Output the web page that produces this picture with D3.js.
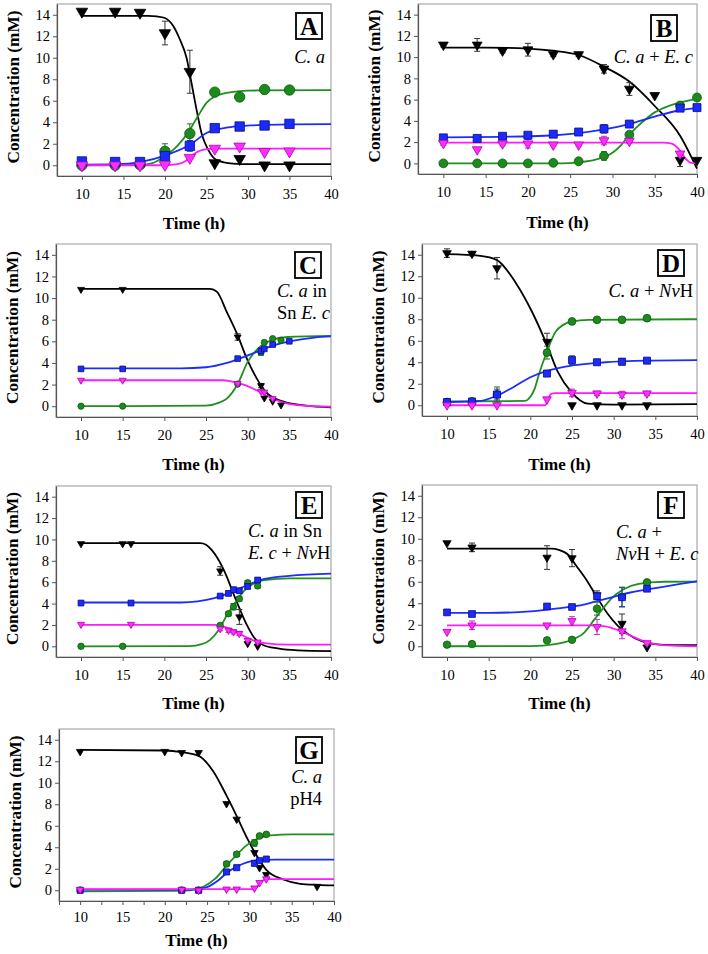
<!DOCTYPE html>
<meta charset="utf-8">
<style>
body { margin: 0; background: #fff; }
svg text { font-family: "Liberation Serif", "Tinos", "Times New Roman", serif; }
.sub { font-size: 18.5px; white-space: pre; }
</style>
<svg width="708" height="954"></svg>
<script src="https://d3js.org/d3.v7.min.js"></script>
<script>
// ---- data (mM vs h) ----
// black = substrate, green / blue / magenta = products; *Err = error bar half-length
var yTicks = [0, 2, 4, 6, 8, 10, 12, 14];
var xTicks = [10, 15, 20, 25, 30, 35, 40];

// A  C. a
var tA = [10, 14, 17, 20, 23, 26, 29, 32, 35];
var blackA = [14.3, 14.3, 14.2, 12.3, 8.7, 0.2, 0.6, 0, 0];
var blackErrA = [0, 0, 0, 1.1, 2.0, 0, 0, 0, 0];
var greenA = [0, 0, 0.05, 1.3, 2.95, 6.8, 6.35, 7.05, 7.0];
var greenErrA = [0, 0, 0, 0.7, 0.9, 0, 0, 0, 0];
var blueA = [0.35, 0.3, 0.3, 0.85, 1.8, 3.45, 3.6, 3.7, 3.85];
var blueErrA = [0, 0, 0, 0.3, 0.5, 0, 0, 0, 0];
var magA = [0, 0, 0, 0.05, 0.7, 1.55, 1.75, 1.25, 1.3];
var magErrA = [0, 0, 0, 0, 0, 0, 0, 0, 0];
var fitBlackA = [[10,13.9],[18,13.9],[19,13.85],[20,13.7],[21,12.95],[21.8,11.7],[22.6,10.0],[23.2,7.65],[23.8,5.2],[24.4,3.0],[25.2,1.45],[26.2,0.5],[28.2,0.15],[30,0.1],[40,0.1]];
var fitGreenA = [[10,0],[17,0.05],[18.5,0.2],[20,0.85],[21.5,1.8],[23,3.3],[24,4.6],[25,5.8],[26,6.4],[28,6.8],[30,6.95],[40,6.98]];
var fitBlueA = [[10,0.06],[14,0.1],[17,0.3],[20,0.9],[23,1.9],[25,3.0],[27.4,3.5],[30.3,3.7],[35,3.8],[40,3.82]];
var fitMagA = [[10,0],[20,0],[21.5,0.1],[22.5,0.4],[23,0.7],[23.6,1.1],[24.2,1.35],[25,1.5],[26,1.55],[40,1.55]];

// B  C. a + E. c
var tB = [10, 14, 17, 20, 23, 26, 29, 32, 35, 38, 40];
var blackB = [11.15, 11.15, 10.6, 10.7, 10.25, 10.25, 8.9, 7.0, 6.4, 0.3, 0.3];
var blackErrB = [0.2, 0.6, 0.2, 0.6, 0.2, 0.2, 0.4, 0.6, 0, 0.6, 0];
var greenB = [0, 0, 0, 0, 0.05, 0.2, 0.7, 2.7, null, 5.45, 6.2];
var greenErrB = [0, 0, 0, 0, 0, 0, 0.4, 0.2, 0, 0.2, 0.3];
var blueB = [2.4, 2.35, 2.55, 2.65, 2.75, 2.95, 3.25, 3.7, null, 5.2, 5.25];
var blueErrB = [0.2, 0.1, 0.1, 0.1, 0.1, 0.1, 0.4, 0.2, 0, 0.1, 0.1];
var magB = [1.9, 1.3, 1.85, 1.85, 1.75, 1.75, 2.15, 2.1, null, 0.9, null];
var magErrB = [0.2, 0, 0.2, 0.4, 0.1, 0.1, 0.4, 0.2, 0, 0.2, 0];
var fitBlackB = [[10,10.9],[15,10.9],[20,10.8],[23,10.6],[26,10.2],[29,9.1],[32,7.7],[35,5.4],[38,2.6],[40,-0.5]];
var fitGreenB = [[10,0],[24,0],[26,0.1],[28,0.35],[30,1.0],[31,1.7],[32,2.7],[33,3.5],[34,4.2],[35,4.8],[36,5.2],[38,5.75],[40,6.05]];
var fitBlueB = [[10,2.45],[17,2.5],[22,2.6],[26,2.85],[29,3.2],[32,3.7],[35,4.4],[38,5.0],[40,5.2]];
var fitMagB = [[10,1.95],[36,1.95],[37,1.85],[38,1.2],[38.7,0.4],[39.3,0.05],[40,0]];

// C  C. a in Sn E. c
var tC = [10, 15, 28.8, 31.6, 32, 33, 34, 35];
var blackC = [10.8, 10.8, 6.4, 1.9, 0.75, 0.45, 0.1, null];
var blackErrC = [0, 0, 0.3, 0.2, 0, 0, 0, 0];
var greenC = [0, 0, 2.05, 5.0, 5.9, 6.25, 6.1, null];
var greenErrC = [0, 0, 0, 0.3, 0, 0, 0, 0];
var blueC = [3.45, 3.45, 4.4, 5.1, 5.3, 5.7, null, 6.0];
var blueErrC = [0, 0, 0, 0.3, 0, 0, 0, 0];
var magC = [2.4, 2.4, 2.1, 1.35, 1.3, 0.7, null, null];
var magErrC = [0, 0, 0, 0, 0, 0, 0, 0];
var fitBlackC = [[10,10.85],[25.5,10.85],[26.3,10.6],[27.5,8.7],[28.8,6.55],[29.9,4.4],[31.1,2.55],[32.4,1.15],[34.4,0.4],[37,0.05],[40,-0.1]];
var fitGreenC = [[10,0],[25,0.05],[26.5,0.3],[27.5,0.7],[28.8,2.05],[30,4.1],[31.2,5.3],[32.8,6.1],[34.8,6.4],[40,6.5]];
var fitBlueC = [[10,3.5],[22,3.5],[25,3.6],[27.5,4.0],[29,4.4],[31,5.0],[33,5.6],[35,6.0],[38,6.35],[40,6.45]];
var fitMagC = [[10,2.4],[27,2.4],[28,2.3],[29.5,2.0],[31,1.5],[32.5,0.9],[34,0.4],[36,0.1],[40,-0.05]];

// D  C. a + NvH
var tD = [10, 13, 16, 22, 25, 28, 31, 34];
var blackD = [14.15, 14.1, 12.75, 5.9, 0, 0, 0, 0];
var blackErrD = [0.4, 0.2, 1.0, 0.8, 0, 0, 0, 0];
var greenD = [0.3, 0.35, 1.0, 4.9, 7.8, 7.95, 7.95, 8.1];
var greenErrD = [0, 0, 0.7, 0.6, 0.2, 0.2, 0.2, 0.1];
var blueD = [0.3, 0.35, 1.0, 2.95, 4.2, 4.0, 4.05, 4.15];
var blueErrD = [0.1, 0.1, 0.5, 0.2, 0.4, 0.2, 0.3, 0.2];
var magD = [0, 0, 0, 0.55, 1.15, 1.1, 1.0, 1.1];
var magErrD = [0, 0, 0, 0, 0.35, 0.2, 0.3, 0.2];
var fitBlackD = [[10,14.05],[14,13.9],[16,13.5],[18.2,11.45],[20.2,8.7],[22,5.6],[23.3,3.1],[24.9,1.25],[26.9,0.15],[30,0.05],[40,0.1]];
var fitGreenD = [[10,0.35],[19.3,0.4],[19.8,0.6],[20.5,1.5],[21,2.8],[22,5.0],[23,6.8],[24,7.5],[25,7.8],[27,7.95],[40,8.0]];
var fitBlueD = [[10,0.3],[14,0.4],[16,0.9],[18,1.7],[20,2.6],[22,3.2],[25,3.7],[29,4.0],[34,4.15],[40,4.2]];
var fitMagD = [[10,0],[21.8,0],[22.1,0.5],[22.5,1.05],[23,1.12],[40,1.12]];

// E  C. a in Sn E. c + NvH
var tE = [10, 15, 16, 26.7, 27.7, 28.3, 29, 30, 31.2];
var blackE = [9.6, 9.6, 9.6, 7.05, null, null, 2.75, 0.25, 0];
var blackErrE = [0, 0, 0, 0.4, 0, 0, 0.7, 0, 0];
var greenE = [0, 0, null, 1.95, 3.05, 3.7, 4.45, 5.95, 5.65];
var greenErrE = [0, 0, 0, 0.2, 0.2, 0.3, 0.2, 0.2, 0.2];
var blueE = [4.05, null, 4.05, 4.7, 4.95, 5.3, 5.2, 5.6, 6.2];
var blueErrE = [0, 0, 0, 0.1, 0.2, 0.2, 0.2, 0.2, 0.2];
var magE = [2.05, null, 2.05, 1.65, 1.5, 1.35, 1.2, 0.55, 0.4];
var magErrE = [0, 0, 0, 0.2, 0.2, 0.2, 0.2, 0.2, 0.1];
var fitBlackE = [[10,9.65],[24.3,9.65],[25,9.5],[25.7,9.0],[26.3,8.35],[27.5,6.5],[28.3,4.9],[29.1,3.4],[29.9,2.0],[30.7,0.9],[31.9,0.1],[33.6,-0.2],[36,-0.38],[40,-0.45]];
var fitGreenE = [[10,0],[23,0.02],[24.5,0.2],[25.5,0.6],[26.5,1.5],[27.5,2.9],[28.7,4.3],[29.7,5.3],[30.8,5.9],[32,6.2],[35,6.35],[40,6.35]];
var fitBlueE = [[10,4.1],[22,4.1],[24,4.2],[26,4.5],[27.5,4.9],[29,5.4],[30.5,5.9],[32,6.3],[35,6.6],[40,6.8]];
var fitMagE = [[10,2.0],[26,2.0],[27,1.9],[28,1.6],[29.2,1.1],[30.5,0.6],[32,0.3],[35,0.15],[40,0.15]];

// F  C. a + NvH + E. c
var tF = [10, 13, 22, 25, 28, 31, 34];
var blackF = [9.6, 9.2, 8.25, 8.2, 4.75, 2.1, -0.1];
var blackErrF = [0, 0.4, 1.1, 0.8, 0.4, 0.9, 0];
var greenF = [0.15, 0.2, 0.55, 0.6, 3.5, 4.6, 5.95];
var greenErrF = [0, 0, 0.2, 0.2, 0.6, 0.9, 0];
var blueF = [3.15, 3.0, 3.7, 3.65, 4.65, 4.55, 5.35];
var blueErrF = [0.2, 0.2, 0.2, 0.2, 0.2, 0.9, 0.2];
var magF = [1.35, 1.95, 1.95, 2.35, 1.8, 1.4, 0.3];
var magErrF = [0, 0.4, 0, 0.4, 0.7, 0.7, 0];
var fitBlackF = [[10,9.08],[22.5,9.08],[23.5,8.95],[24.4,8.6],[25.6,7.4],[26.8,6.1],[28,4.55],[29.3,3.0],[30.5,1.9],[31.7,1.15],[33.3,0.5],[34.9,0.2],[37,0.1],[40,0.1]];
var fitGreenF = [[10,0],[20,0.02],[23,0.2],[25,0.6],[26.5,1.3],[27.7,2.5],[28.7,3.5],[29.8,4.5],[31.2,5.3],[33,5.8],[36,6.0],[40,6.02]];
var fitBlueF = [[10,3.1],[15,3.1],[20,3.25],[23,3.5],[26,3.8],[28,4.2],[30,4.6],[32,5.0],[35,5.4],[38,5.8],[40,6.05]];
var fitMagF = [[10,1.95],[27,1.95],[29,1.85],[30.5,1.5],[32,1.0],[33.5,0.5],[35,0.2],[37,0.05],[40,0]];

// G  C. a pH4
var tG = [10, 20, 22, 24, 27.3, 28.5, 30.6, 31.2, 32, 38];
var blackG = [12.9, 12.9, 12.8, 12.8, 8.05, 6.6, 3.5, 2.1, 1.45, 0.35];
var blackErrG = [0, 0, 0, 0, 0, 0, 0, 0, 0, 0];
var greenG = [0, null, 0, 0, 2.45, 3.35, 4.4, 5.05, 5.2, null];
var greenErrG = [0, 0, 0, 0, 0.2, 0.2, 0.3, 0.1, 0.1, 0];
var blueG = [0, null, 0, 0, 1.7, 2.1, 2.5, 2.75, 2.9, null];
var blueErrG = [0, 0, 0, 0, 0, 0, 0, 0, 0, 0];
var magG = [0.05, null, 0.05, 0, 0.1, 0.1, 0.2, 0.7, 1.05, null];
var magErrG = [0, 0, 0, 0, 0, 0, 0, 0, 0, 0];
var fitBlackG = [[10,13.05],[20,13.0],[22,12.85],[24,12.5],[25.7,11.1],[27.3,8.8],[28.5,6.9],[29.7,4.9],[30.8,3.3],[32,1.9],[34,1.0],[36,0.6],[38,0.5],[40,0.45]];
var fitGreenG = [[10,-0.1],[20,-0.05],[23,0],[24.5,0.3],[26,1.1],[27.3,2.3],[28.5,3.3],[29.7,4.2],[31,4.8],[32.5,5.1],[35,5.2],[40,5.2]];
var fitBlueG = [[10,0.05],[23,0.05],[25,0.3],[26.3,0.9],[27.3,1.6],[28.5,2.2],[29.7,2.6],[31,2.8],[33,2.85],[40,2.85]];
var fitMagG = [[10,0.1],[30.5,0.1],[30.9,0.3],[31.3,0.7],[31.7,0.95],[32.2,1.03],[40,1.03]];

// panel table built from the arrays above
var panels = [
  {id: "A", t: tA, s: [[blackA, blackErrA, fitBlackA], [greenA, greenErrA, fitGreenA], [blueA, blueErrA, fitBlueA], [magA, magErrA, fitMagA]],
   text: [[["C. a", 1]]]},
  {id: "B", t: tB, s: [[blackB, blackErrB, fitBlackB], [greenB, greenErrB, fitGreenB], [blueB, blueErrB, fitBlueB], [magB, magErrB, fitMagB]],
   text: [[["C. a", 1], [" + ", 0], ["E. c", 1]]]},
  {id: "C", t: tC, s: [[blackC, blackErrC, fitBlackC], [greenC, greenErrC, fitGreenC], [blueC, blueErrC, fitBlueC], [magC, magErrC, fitMagC]],
   text: [[["C. a", 1], [" in", 0]], [["Sn ", 0], ["E. c", 1]]]},
  {id: "D", t: tD, s: [[blackD, blackErrD, fitBlackD], [greenD, greenErrD, fitGreenD], [blueD, blueErrD, fitBlueD], [magD, magErrD, fitMagD]],
   text: [[["C. a", 1], [" + ", 0], ["Nv", 1], ["H", 0]]]},
  {id: "E", t: tE, s: [[blackE, blackErrE, fitBlackE], [greenE, greenErrE, fitGreenE], [blueE, blueErrE, fitBlueE], [magE, magErrE, fitMagE]],
   text: [[["C. a", 1], [" in Sn", 0]], [["E. c", 1], [" + ", 0], ["Nv", 1], ["H", 0]]]},
  {id: "F", t: tF, s: [[blackF, blackErrF, fitBlackF], [greenF, greenErrF, fitGreenF], [blueF, blueErrF, fitBlueF], [magF, magErrF, fitMagF]],
   text: [[["C. a", 1], [" +", 0]], [["Nv", 1], ["H + ", 0], ["E. c", 1]]]},
  {id: "G", t: tG, s: [[blackG, blackErrG, fitBlackG], [greenG, greenErrG, fitGreenG], [blueG, blueErrG, fitBlueG], [magG, magErrG, fitMagG]],
   text: [[["C. a", 1]], [["pH4", 0]]]}
];

// where each panel sits on the page
var layout = {
  A: {x0: 57, x1: 331, y0: 4, y1: 176, xmin: 7, tag: [322, 13], ms: 1.0, tx: 325, ty: 63, anchor: "end", title: 53},
  B: {x0: 418, x1: 697, y0: 4, y1: 174, xmin: 7, tag: [677, 15], ms: 0.85, tx: 693, ty: 63, anchor: "end", title: 54},
  C: {x0: 56, x1: 331, y0: 244, y1: 417, xmin: 7, tag: [321, 252], ms: 0.6, tx: 277, ty: 297, anchor: "start", title: 53},
  D: {x0: 422, x1: 697, y0: 244, y1: 416, xmin: 7, tag: [684, 250], ms: 0.75, tx: 693, ty: 297, anchor: "end", title: 54},
  E: {x0: 56, x1: 331, y0: 486, y1: 657, xmin: 7, tag: [322, 492], ms: 0.62, tx: 248, ty: 537, anchor: "start", title: 52},
  F: {x0: 422, x1: 697, y0: 485, y1: 657, xmin: 7, tag: [684, 492], ms: 0.72, tx: 616, ty: 538, anchor: "start", title: 52},
  G: {x0: 59, x1: 334, y0: 729, y1: 901, xmin: 7.5, tag: [322, 737], ms: 0.65, tx: 322, ty: 783, anchor: "end", title: 45, minor: true}
};

var SERIF = "Liberation Serif";
var fillCol = ["#000000", "#1c8a1c", "#1b2bff", "#ff2eff"];
var edgeCol = ["#000000", "#0b5a0b", "#0a0a7a", "#b000b0"];
var lineCol = ["#000000", "#1f8f1f", "#1a2cff", "#ff1aff"];
var errCol = ["#333333", "#2a6e2a", "#2a3aa0", "#c030c0"];

var svg = d3.select("svg");

function markerPath(k, ms) {
  if (k == 1) return d3.symbol(d3.symbolCircle, Math.PI * Math.pow(5.2 * ms, 2))();
  if (k == 2) return d3.symbol(d3.symbolSquare, Math.pow(9.4 * ms, 2))();
  return d3.symbol(d3.symbolTriangle, 0.433 * Math.pow(11.5 * ms, 2))();
}

panels.forEach(function(p) {
  var L = layout[p.id];
  var x = d3.scaleLinear().domain([L.xmin, 40]).range([L.x0, L.x1]);
  var y = d3.scaleLinear().domain([-1, 15]).range([L.y1, L.y0]);
  var g = svg.append("g");

  // frame
  g.append("rect")
    .attr("x", L.x0).attr("y", L.y0)
    .attr("width", L.x1 - L.x0).attr("height", L.y1 - L.y0)
    .attr("fill", "none").attr("stroke", "#a8a8a8").attr("stroke-width", 1.2);

  var ya = g.append("g").attr("transform", "translate(" + L.x0 + ",0)")
    .call(d3.axisLeft(y).tickValues(yTicks).tickSize(4).tickSizeOuter(0).tickPadding(3));
  var xt = L.minor ? d3.range(7.5, 40.01, 2.5) : xTicks;
  var xa = g.append("g").attr("transform", "translate(0," + L.y1 + ")")
    .call(d3.axisBottom(x).tickValues(xt).tickSize(4).tickSizeOuter(0)
      .tickPadding(L.minor ? 7 : 9)
      .tickFormat(function(d) { return d % 5 == 0 ? d : ""; }));
  [ya, xa].forEach(function(a) {
    a.attr("font-family", SERIF).attr("font-size", 14.5);
    a.select(".domain").attr("stroke", "#555").attr("stroke-width", 1.2);
    a.selectAll(".tick line").attr("stroke", "#555");
    a.selectAll("text").style("font-family", SERIF).style("font-size", "14.5px").attr("fill", "#000");
  });

  // axis titles
  g.append("text")
    .attr("transform", "translate(" + (L.x0 - 38) + "," + ((L.y0 + L.y1) / 2 - 3) + ") rotate(-90)")
    .attr("text-anchor", "middle")
    .style("font-family", SERIF).style("font-weight", "bold").style("font-size", "17.3px")
    .text("Concentration (mM)");
  g.append("text")
    .attr("x", (L.x0 + L.x1) / 2).attr("y", L.y1 + L.title)
    .attr("text-anchor", "middle")
    .style("font-family", SERIF).style("font-weight", "bold").style("font-size", "17px")
    .text("Time (h)");

  // fitted curves
  var line = d3.line()
    .x(function(d) { return x(d[0]); })
    .y(function(d) { return y(d[1]); })
    .curve(d3.curveMonotoneX);
  p.s.forEach(function(s, k) {
    g.append("path").datum(s[2])
      .attr("d", line)
      .attr("fill", "none")
      .attr("stroke", lineCol[k])
      .attr("stroke-width", 1.8);
  });

  // error bars
  p.s.forEach(function(s, k) {
    var pts = p.t.map(function(t, i) { return {t: t, v: s[0][i], e: s[1][i]}; })
      .filter(function(d) { return d.v != null && d.e > 0; });
    var eb = g.append("g").attr("stroke", errCol[k]).attr("stroke-width", 1);
    pts.forEach(function(d) {
      var cx = x(d.t), ya1 = y(d.v + d.e), ya2 = y(d.v - d.e);
      eb.append("line").attr("x1", cx).attr("x2", cx).attr("y1", ya1).attr("y2", ya2);
      eb.append("line").attr("x1", cx - 3).attr("x2", cx + 3).attr("y1", ya1).attr("y2", ya1);
      eb.append("line").attr("x1", cx - 3).attr("x2", cx + 3).attr("y1", ya2).attr("y2", ya2);
    });
  });

  // markers
  p.s.forEach(function(s, k) {
    var pts = p.t.map(function(t, i) { return {t: t, v: s[0][i]}; })
      .filter(function(d) { return d.v != null; });
    g.append("g").selectAll("path").data(pts).enter().append("path")
      .attr("d", markerPath(k, L.ms))
      .attr("transform", function(d) {
        return "translate(" + x(d.t) + "," + y(d.v) + ")" + (k == 0 || k == 3 ? " rotate(180)" : "");
      })
      .attr("fill", fillCol[k])
      .attr("stroke", edgeCol[k])
      .attr("stroke-width", 0.8);
  });

  // panel tag
  g.append("rect")
    .attr("x", L.tag[0] - 26).attr("y", L.tag[1])
    .attr("width", 26).attr("height", 26)
    .attr("fill", "#fff").attr("stroke", "#000").attr("stroke-width", 1.8);
  g.append("text")
    .attr("x", L.tag[0] - 13).attr("y", L.tag[1] + 21.5)
    .attr("text-anchor", "middle")
    .style("font-family", SERIF).style("font-weight", "bold").style("font-size", "25px")
    .text(p.id);

  // condition label
  p.text.forEach(function(ln, j) {
    var tx = g.append("text").attr("class", "sub")
      .attr("x", L.tx).attr("y", L.ty + j * 22)
      .attr("text-anchor", L.anchor)
      .style("font-family", SERIF);
    ln.forEach(function(seg) {
      tx.append("tspan").style("font-style", seg[1] ? "italic" : "normal").text(seg[0]);
    });
  });
});
</script>
